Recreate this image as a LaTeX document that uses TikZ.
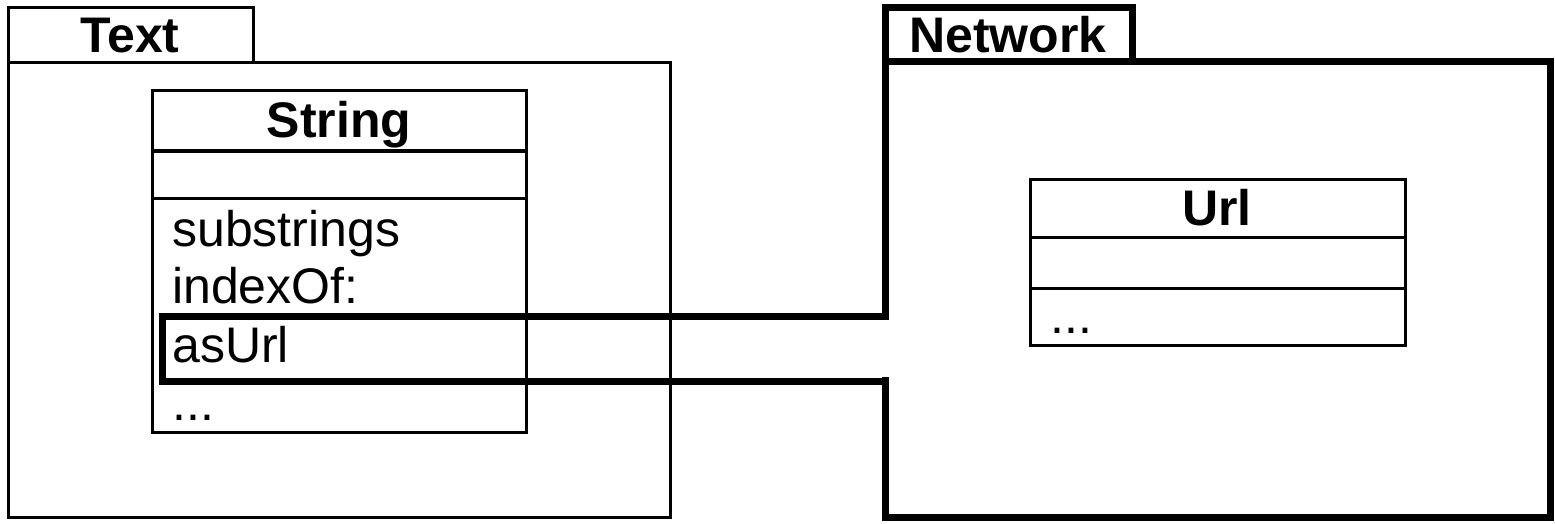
\documentclass[tikz,border=0pt]{standalone}
\usepackage{fontspec}
\setmainfont{Liberation Sans}
\begin{document}
\begin{tikzpicture}[x=1pt,y=-1pt,
  thin line/.style={line width=3pt},
  thick line/.style={line width=7pt},
  lbl/.style={inner sep=0pt, anchor=base, font=\fontsize{50}{58}\selectfont\bfseries},
  member/.style={inner sep=0pt, anchor=base west, font=\fontsize{50}{58}\selectfont}]
\useasboundingbox (0,0) rectangle (1555,524);
% Text package
\draw[thin line] (8,63) rectangle (670,517);
\draw[thin line] (8,63) -- (8,8) -- (253,8) -- (253,63);
\node[lbl] (textlbl) at (130,53) {Text};
% String class
\draw[thin line] (152,91) rectangle (526,432);
\draw[thin line] (152,151) -- (526,151);
\draw[thin line] (152,198) -- (526,198);
\node[lbl] (stringlbl) at (339,138) {String};
\node[member] (m1) at (172,246) {substrings};
\node[member] (m2) at (172,303) {indexOf:};
\node[member] (m3) at (172,362) {asUrl};
\node[member] (m4) at (172,420) {...};
% Network package
\coordinate (nt) at (885,316);
\coordinate (nb) at (885,381);
\draw[thick line] (885,320) -- (885,62) -- (1550,62) -- (1550,517) -- (885,517) -- (885,377);
\draw[thick line] (885,62) -- (885,8) -- (1132,8) -- (1132,62);
\node[lbl] (netlbl) at (1008,53) {Network};
% Url class
\draw[thin line] (1030,179) rectangle (1405,345);
\draw[thin line] (1030,237) -- (1405,237);
\draw[thin line] (1030,288) -- (1405,288);
\node[lbl] (urllbl) at (1217,225) {Url};
\node[member] (u1) at (1050,333) {...};
% highlight connector
\draw[thick line] (nt) -- (162,316) -- (162,381) -- (nb);
\end{tikzpicture}
\end{document}
